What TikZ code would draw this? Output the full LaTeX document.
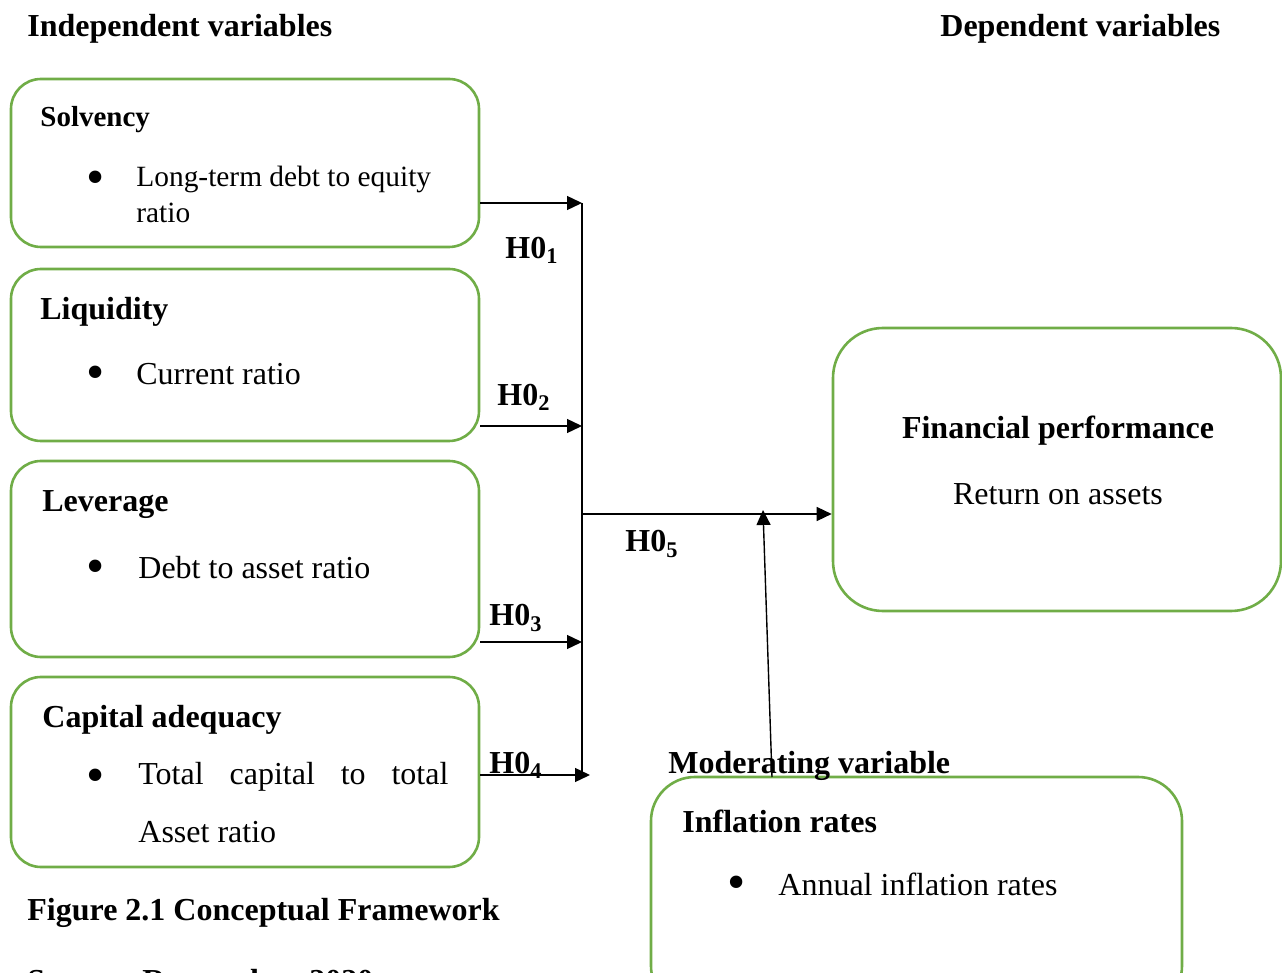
\documentclass[tikz,border=0pt]{standalone}
\usepackage{fontspec}
\setmainfont{Liberation Serif}
\usepackage{xcolor}
\usetikzlibrary{arrows.meta, positioning}
\definecolor{boxgreen}{RGB}{112,173,71}

\begin{document}
\begin{tikzpicture}[x=0.5pt, y=-0.5pt, font=\fontsize{16}{19}\selectfont]
		\tikzstyle{varbox}=[draw=boxgreen, line width=1.3pt, rounded corners=15pt, minimum width=234pt, inner sep=0pt, fill=none]
		\tikzstyle{heading}=[anchor=west, inner sep=0pt, yshift=-1.5pt, font=\fontsize{16}{19}\selectfont\bfseries]
		\tikzstyle{bodytext}=[anchor=west, inner sep=0pt, yshift=-1.5pt]
		\tikzstyle{dot}=[inner sep=0pt, yshift=-3.5pt, font=\fontsize{26}{26}\selectfont]
		\tikzstyle{hlabel}=[inner sep=0pt, yshift=-1.5pt, font=\fontsize{16}{19}\selectfont\bfseries]
		\tikzstyle{arr}=[line width=0.7pt, -{Triangle[length=7.5pt, width=7pt]}]
		
		\useasboundingbox (0,0) rectangle (1282,973);
		
		\node (indep) at (27,26) [heading] {Independent variables};
		\node (dep) at (940,26) [heading] {Dependent variables};
		
		% independent variable boxes
		\node (sol) at (245,163) [varbox, minimum height=84pt] {};
		\node (liq) at (245,355) [varbox, minimum height=86pt] {};
		\node (lev) at (245,559) [varbox, minimum height=98pt] {};
		\node (cap) at (245,772) [varbox, minimum height=95pt] {};
		
		\node (solt) at (40,117) [heading, font=\fontsize{14.5}{17}\selectfont\bfseries] {Solvency};
		\node (solb) at (96,176) [dot] {\textbullet};
		\node (sol1) at (136,176) [bodytext, font=\fontsize{14.7}{17}\selectfont] {Long-term debt to equity};
		\node (sol2) at (136,210) [bodytext, font=\fontsize{14.7}{17}\selectfont] {ratio};
		
		\node (liqt) at (40,309) [heading] {Liquidity};
		\node (liqb) at (96,371) [dot] {\textbullet};
		\node (liq1) at (136,371) [bodytext] {Current ratio};
		
		\node (levt) at (42,502) [heading] {Leverage};
		\node (levb) at (96,565) [dot] {\textbullet};
		\node (lev1) at (138,565) [bodytext] {Debt to asset ratio};
		
		\node (capt) at (42,717) [heading] {Capital adequacy};
		\node (capb) at (96,774) [dot] {\textbullet};
		\node (cap1) at (138,774) [bodytext] {\makebox[155pt][s]{Total capital to total}};
		\node (cap2) at (138,829) [bodytext] {Asset ratio};
		
		% dependent variable box
		\node (fin) at (1057,469.5) [varbox, rounded corners=25pt, minimum width=224pt, minimum height=141.5pt] {};
		\node (fint) at (1058,428) [hlabel] {Financial performance};
		\node (fin1) at (1058,491) [inner sep=0pt, yshift=-1.5pt] {Return on assets};
		
		% moderating variable box
		\node (inf) at (916.5,893.5) [varbox, rounded corners=22pt, minimum width=265.5pt, minimum height=116.5pt] {};
		\node (modt) at (668,763) [heading] {Moderating variable};
		\node (inft) at (682,818) [heading] {Inflation rates};
		\node (infb) at (737,881) [dot] {\textbullet};
		\node (inf1) at (778,881) [bodytext] {Annual inflation rates};
		
		\node (fig) at (27,910) [heading] {Figure 2.1 Conceptual Framework};
		\node (src) at (27,991) [anchor=base west, inner sep=0pt, font=\fontsize{16}{19}\selectfont\bfseries] {Source: Researcher, 2020};
		
		% connectors
		\coordinate (j1) at (582,203);
		\coordinate (j2) at (582,426);
		\coordinate (j3) at (582,642);
		\coordinate (j4) at (590,775);
		\coordinate (jbot) at (582,775);
		\coordinate (jmid) at (582,514);
		\coordinate (modfoot) at (772,777);
		\coordinate (modtip) at (763,510);
		
		\draw [line width=0.7pt] (j1) -- (jbot);
		\draw [arr] (sol.east |- j1) -- (j1);
		\draw [arr] (liq.east |- j2) -- (j2);
		\draw [arr] (lev.east |- j3) -- (j3);
		\draw [arr] (cap.east |- j4) -- (j4);
		\draw [arr] (jmid) -- (fin.west |- jmid);
		\draw [arr] (modfoot) -- (modtip);
		
		\node (h1) at (532,247) [hlabel] {H0\textsubscript{1}};
		\node (h2) at (524,394) [hlabel] {H0\textsubscript{2}};
		\node (h3) at (516,615) [hlabel] {H0\textsubscript{3}};
		\node (h4) at (516,762) [hlabel] {H0\textsubscript{4}};
		\node (h5) at (652,541) [hlabel] {H0\textsubscript{5}};
		
\end{tikzpicture}
\end{document}
